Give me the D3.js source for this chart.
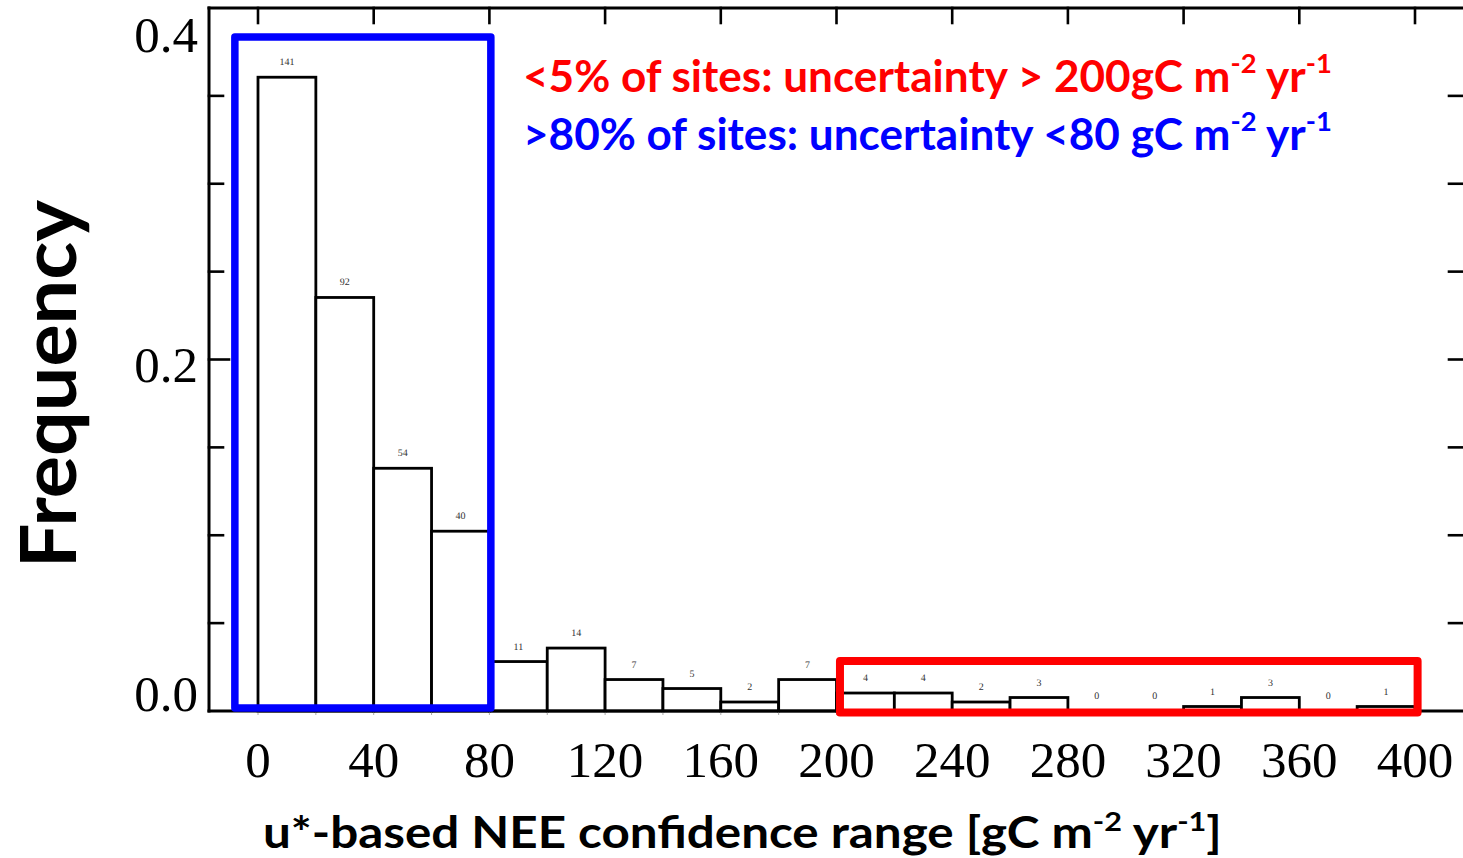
<!DOCTYPE html>
<html>
<head>
<meta charset="utf-8">
<script src="https://cdn.jsdelivr.net/npm/d3@7/dist/d3.min.js"></script>
<style>
  html, body { margin: 0; padding: 0; background: #fff; }
  svg { display: block; }
</style>
</head>
<body>
<svg id="chart" width="1463" height="858"></svg>
<script>
// Histogram of u*-based NEE confidence range across sites (bin width 20 gC m-2 yr-1)
const binStarts = [0, 20, 40, 60, 80, 100, 120, 140, 160, 180, 200, 220, 240, 260, 280, 300, 320, 340, 360, 380];
const siteCounts = [141, 92, 54, 40, 11, 14, 7, 5, 2, 7, 4, 4, 2, 3, 0, 0, 1, 3, 0, 1];
const binWidth = 20;
const xTickValues = [0, 40, 80, 120, 160, 200, 240, 280, 320, 360, 400];
const yMajorTicks = [0.0, 0.2, 0.4];
const yMinorTicks = [0.05, 0.1, 0.15, 0.25, 0.3, 0.35];

// highlighted ranges (data units): low-uncertainty group and high-uncertainty group
const lowRange = { x0: -8, x1: 80.5, y0: 0.0017, y1: 0.3835 };
const highRange = { x0: 201.2, x1: 400.9, y0: -0.0009, y1: 0.0284 };

const totalSites = d3.sum(siteCounts);
const bins = binStarts.map((s, i) => ({ x0: s, x1: s + binWidth, n: siteCounts[i], f: siteCounts[i] / totalSites }));

const svg = d3.select("#chart");
const W = 1463, H = 858;

const x = d3.scaleLinear().domain([0, 400]).range([258, 1415]);
const y = d3.scaleLinear().domain([0, 0.4]).range([711, 8]);
// tick-label baselines sit on their own spacing down the left side
const yLabel = d3.scaleLinear().domain([0, 0.4]).range([711, 52]);

const frameLeft = 209, frameTop = y(0.4), frameBottom = y(0);

// bars
svg.append("g")
  .selectAll("rect")
  .data(bins.filter(d => d.n > 0))
  .join("rect")
  .attr("x", d => x(d.x0))
  .attr("y", d => y(d.f))
  .attr("width", d => x(d.x1) - x(d.x0))
  .attr("height", d => y(0) - y(d.f))
  .attr("fill", "#fff")
  .attr("stroke", "#000")
  .attr("stroke-width", 2.8);

// count labels above each bin
svg.append("g")
  .selectAll("text")
  .data(bins)
  .join("text")
  .attr("x", d => x((d.x0 + d.x1) / 2))
  .attr("y", d => y(d.f) - 12)
  .attr("text-anchor", "middle")
  .attr("font-family", "Liberation Serif, Times New Roman, serif")
  .attr("font-size", 10)
  .attr("fill", "#333")
  .style("text-rendering", "geometricPrecision")
  .text(d => d.n);

// faint bin-edge ticks under the baseline
svg.append("g")
  .selectAll("line")
  .data(d3.range(0, 401, binWidth))
  .join("line")
  .attr("x1", d => x(d)).attr("x2", d => x(d))
  .attr("y1", frameBottom).attr("y2", frameBottom + 4)
  .attr("stroke", "#aaa").attr("stroke-width", 1);

// frame: left, top, bottom
const frame = svg.append("g").attr("stroke", "#000").attr("stroke-width", 3).attr("stroke-linecap", "square");
frame.append("line").attr("x1", frameLeft).attr("x2", frameLeft).attr("y1", frameTop).attr("y2", frameBottom);
frame.append("line").attr("x1", frameLeft).attr("x2", W + 5).attr("y1", frameTop).attr("y2", frameTop);
frame.append("line").attr("x1", frameLeft).attr("x2", W + 5).attr("y1", frameBottom).attr("y2", frameBottom);

// top ticks (pointing inward)
frame.append("g").selectAll("line").data(xTickValues).join("line")
  .attr("x1", d => x(d)).attr("x2", d => x(d))
  .attr("y1", frameTop).attr("y2", frameTop + 15)
  .attr("stroke-width", 2.6);

// left and right ticks
const leftTicks = yMinorTicks.map(v => ({ v, len: 14 })).concat([{ v: 0.2, len: 20 }]);
frame.append("g").selectAll("line").data(leftTicks).join("line")
  .attr("x1", frameLeft).attr("x2", d => frameLeft + d.len)
  .attr("y1", d => y(d.v)).attr("y2", d => y(d.v))
  .attr("stroke-width", 2.6);
frame.append("g").selectAll("line").data(yMinorTicks.concat([0.2])).join("line")
  .attr("x1", W - 14).attr("x2", W + 2)
  .attr("y1", d => y(d)).attr("y2", d => y(d))
  .attr("stroke-width", 2.6);

// tick labels
svg.append("g")
  .selectAll("text")
  .data(xTickValues)
  .join("text")
  .attr("x", d => x(d))
  .attr("y", 777)
  .attr("text-anchor", "middle")
  .attr("font-family", "Liberation Serif, Times New Roman, serif")
  .attr("font-size", 51)
  .text(d => d);

svg.append("g")
  .selectAll("text")
  .data(yMajorTicks)
  .join("text")
  .attr("x", 198)
  .attr("y", d => yLabel(d))
  .attr("text-anchor", "end")
  .attr("font-family", "Liberation Serif, Times New Roman, serif")
  .attr("font-size", 51)
  .text(d => d.toFixed(1));

// highlight boxes
function rangeBox(r, color, sw) {
  svg.append("rect")
    .attr("x", x(r.x0)).attr("y", y(r.y1))
    .attr("width", x(r.x1) - x(r.x0))
    .attr("height", y(r.y0) - y(r.y1))
    .attr("fill", "none")
    .attr("stroke", color)
    .attr("stroke-width", sw)
    .attr("stroke-linejoin", "round");
}
rangeBox(lowRange, "#0000ff", 7.5);
rangeBox(highRange, "#ff0000", 8);

// text with superscripted unit exponents
const sansFont = "Lato, 'Open Sans', sans-serif";
function richText(parts, opts) {
  const g = svg.append("g");
  const t = g.append("text")
    .attr("x", 0).attr("y", 0)
    .attr("font-family", sansFont)
    .attr("font-weight", "bold")
    .attr("font-size", opts.size)
    .attr("fill", opts.color || "#000");
  let raised = false;
  parts.forEach(p => {
    const sup = typeof p === "object";
    const ts = t.append("tspan").text(sup ? p.sup : p);
    if (sup && !raised) { ts.attr("dy", -opts.supRaise).attr("font-size", opts.size * 0.62); raised = true; }
    else if (sup) { ts.attr("dy", 0).attr("font-size", opts.size * 0.62); }
    else if (raised) { ts.attr("dy", opts.supRaise); raised = false; }
  });
  const w = t.node().getComputedTextLength();
  const s = opts.width / w;
  return { g, t, s };
}

const redLine = richText(["<5% of sites: uncertainty > 200gC m", { sup: "-2" }, " yr", { sup: "-1" }],
  { size: 43, color: "#ff0000", supRaise: 19, width: 809 });
redLine.g.attr("transform", `translate(523,92) scale(${redLine.s},1)`);

const blueLine = richText([">80% of sites: uncertainty <80 gC m", { sup: "-2" }, " yr", { sup: "-1" }],
  { size: 43, color: "#0000ff", supRaise: 19, width: 809 });
blueLine.g.attr("transform", `translate(523,150) scale(${blueLine.s},1)`);

const xTitle = richText(["u*-based NEE confidence range [gC m", { sup: "-2" }, " yr", { sup: "-1" }, "]"],
  { size: 43, supRaise: 17, width: 959 });
xTitle.g.attr("transform", `translate(263,848) scale(${xTitle.s},1)`);

const yTitle = richText(["Frequency"], { size: 77, width: 368 });
yTitle.g.attr("transform", `translate(76,568) rotate(-90) scale(${yTitle.s},1)`);
</script>
</body>
</html>
